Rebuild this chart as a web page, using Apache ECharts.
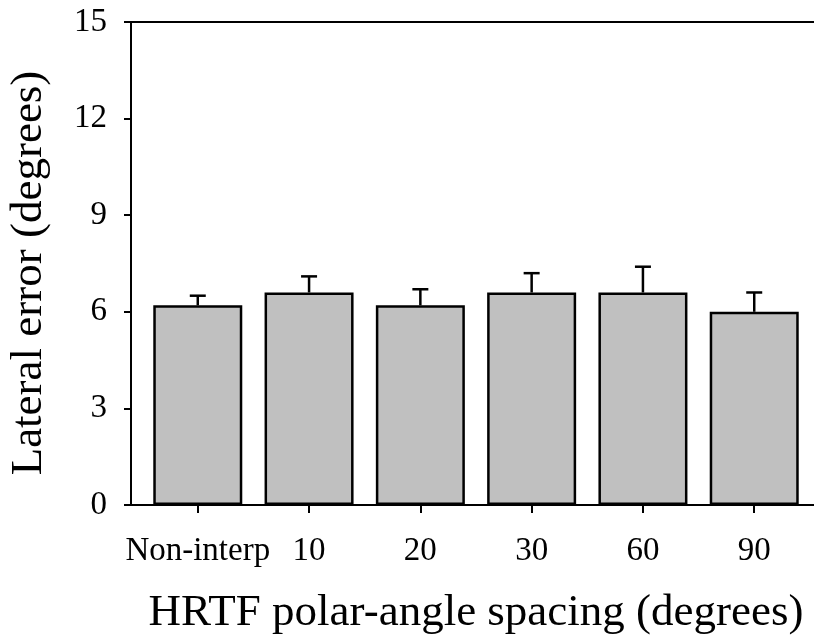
<!DOCTYPE html>
<html>
<head>
<meta charset="utf-8">
<script src="https://cdn.jsdelivr.net/npm/echarts@6/dist/echarts.min.js"></script>
<style>
html,body{margin:0;padding:0;background:#fff;overflow:hidden;}
#chart{width:822px;height:642px;}
</style>
</head>
<body>
<div id="chart"></div>
<script>
var categories = ['Non-interp', '10', '20', '30', '60', '90'];
var positions = [1, 2, 3, 4, 5, 6];
var meanError = [6.2, 6.6, 6.2, 6.6, 6.6, 6.0];
var upperError = [6.5, 7.1, 6.7, 7.2, 7.4, 6.6];
var yTicks = [0, 3, 6, 9, 12, 15];
var xTitle = 'HRTF polar-angle spacing (degrees)';
var yTitle = 'Lateral error (degrees)';

var FONT = '"Liberation Serif", "Times New Roman", serif';
var chart = echarts.init(document.getElementById('chart'), null, {renderer: 'canvas'});

var barData = positions.map(function (p, i) { return [p, meanError[i]]; });
var errData = positions.map(function (p, i) { return [p, meanError[i], upperError[i]]; });

var option = {
  animation: false,
  backgroundColor: '#ffffff',
  grid: {left: 131, right: 1, top: 22, bottom: 137, containLabel: false},
  xAxis: [{
    type: 'value',
    min: 0.4,
    max: 6.6,
    position: 'bottom',
    name: xTitle,
    nameLocation: 'middle',
    nameGap: 86,
    nameTextStyle: {fontFamily: FONT, fontSize: 45, color: '#000'},
    axisLine: {show: true, onZero: false, lineStyle: {color: '#000', width: 2}},
    axisTick: {show: true, inside: false, length: 8, lineStyle: {color: '#000', width: 2}, customValues: positions},
    axisLabel: {show: true, margin: 30, fontFamily: FONT, fontSize: 33, color: '#000', customValues: positions,
      formatter: function (v) { var i = Math.round(v) - 1; return categories[i] !== undefined ? categories[i] : ''; }},
    splitLine: {show: false}
  }, {
    type: 'value',
    min: 0.4,
    max: 6.6,
    position: 'top',
    axisLine: {show: true, onZero: false, lineStyle: {color: '#000', width: 2}},
    axisTick: {show: false},
    axisLabel: {show: false},
    splitLine: {show: false}
  }],
  yAxis: {
    type: 'value',
    min: 0,
    max: 15,
    interval: 3,
    axisLine: {show: true, lineStyle: {color: '#000', width: 2}},
    axisTick: {show: true, inside: false, length: 7, lineStyle: {color: '#000', width: 2}},
    axisLabel: {show: true, margin: 24, fontFamily: FONT, fontSize: 33, color: '#000',
      formatter: function (v) { return yTicks.indexOf(v) >= 0 ? String(v) : ''; }},
    splitLine: {show: false}
  },
  graphic: [{
    type: 'text',
    x: 29,
    y: 273,
    rotation: Math.PI / 2,
    style: {
      text: yTitle,
      fontFamily: FONT,
      fontSize: 45,
      fill: '#000',
      align: 'center',
      verticalAlign: 'middle'
    }
  }],
  series: [{
    type: 'bar',
    xAxisIndex: 0,
    data: barData,
    barWidth: 89,
    itemStyle: {color: '#c0c0c0', borderColor: '#000', borderWidth: 2.5},
    z: 2
  }, {
    type: 'custom',
    xAxisIndex: 0,
    data: errData,
    z: 3,
    renderItem: function (params, api) {
      var x = api.value(0);
      var base = api.coord([x, api.value(1)]);
      var top = api.coord([x, api.value(2)]);
      var half = 8;
      var style = {stroke: '#000', lineWidth: 2.5};
      return {
        type: 'group',
        children: [
          {type: 'line', shape: {x1: base[0], y1: base[1], x2: top[0], y2: top[1]}, style: style},
          {type: 'line', shape: {x1: top[0] - half, y1: top[1], x2: top[0] + half, y2: top[1]}, style: style}
        ]
      };
    }
  }]
};
chart.setOption(option);
</script>
</body>
</html>
